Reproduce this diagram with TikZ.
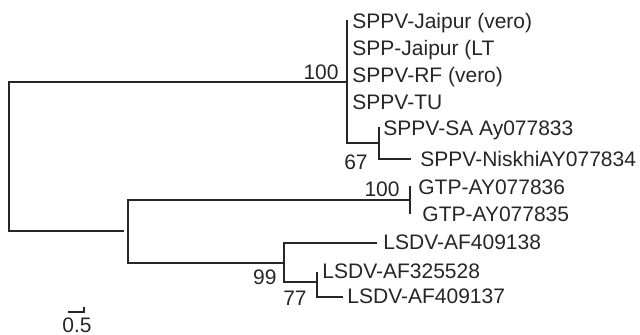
\documentclass[tikz,border=0pt]{standalone}
\usepackage{fontspec}
\setmainfont{Liberation Sans}
\definecolor{ink}{gray}{0.15}
\begin{document}
\begin{tikzpicture}[x=0.5pt,y=-0.5pt,
  branch/.style={draw=ink,line width=0.65pt,line cap=rect},
  taxon/.style={anchor=base west,inner sep=0pt,text=ink,font=\fontsize{10.5pt}{12pt}\selectfont},
  support/.style={anchor=base east,inner sep=0pt,text=ink,font=\fontsize{10.5pt}{12pt}\selectfont}]
\useasboundingbox (0,0) rectangle (640,335);

% internal nodes
\coordinate (root) at (9,156);
\coordinate (sppv) at (347,82);
\coordinate (sppvtop) at (347,21);
\coordinate (sa) at (379,143);
\coordinate (lowstub) at (123,231);
\coordinate (lower) at (128,231);
\coordinate (gtp) at (410,200);
\coordinate (lsdv) at (284,263);
\coordinate (l77) at (317,282);

% tips
\coordinate (tSA) at (379,128);
\coordinate (tNis) at (410,159);
\coordinate (tG6) at (410,187);
\coordinate (tG5) at (410,213);
\coordinate (t138) at (376,243);
\coordinate (t528) at (317,273);
\coordinate (t137) at (342,297);

% branches
\draw[branch] (root) |- (sppv);
\draw[branch] (root) |- (lowstub);
\draw[branch] (sppvtop) -- (sppv) |- (sa);
\draw[branch] (sa) |- (tSA);
\draw[branch] (sa) |- (tNis);
\draw[branch] (lower) |- (gtp);
\draw[branch] (lower) |- (lsdv);
\draw[branch] (tG6) -- (tG5);
\draw[branch] (lsdv) |- (t138);
\draw[branch] (lsdv) |- (l77);
\draw[branch] (l77) |- (t528);
\draw[branch] (l77) |- (t137);

% taxon labels
\node[taxon] (n1) at (352,28.5) {SPPV-Jaipur (vero)};
\node[taxon] (n2) at (352,55.5) {SPP-Jaipur (LT};
\node[taxon] (n3) at (352,82.5) {SPPV-RF (vero)};
\node[taxon] (n4) at (352,109.5) {SPPV-TU};
\node[taxon] (n5) at (383,135.5) {SPPV-SA Ay077833};
\node[taxon] (n6) at (420,166.5) {SPPV-NiskhiAY077834};
\node[taxon] (n7) at (418,194.5) {GTP-AY077836};
\node[taxon] (n8) at (422,221.5) {GTP-AY077835};
\node[taxon] (n9) at (383,249.5) {LSDV-AF409138};
\node[taxon] (n10) at (322,278.5) {LSDV-AF325528};
\node[taxon] (n11) at (347,303.5) {LSDV-AF409137};

% bootstrap values
\node[support] (b1) at (339,79.5) {100};
\node[support] (b2) at (368,169.5) {67};
\node[support] (b3) at (400,196.5) {100};
\node[support] (b4) at (277,284.5) {99};
\node[support] (b5) at (307,305.5) {77};

% scale bar
\coordinate (s0) at (68,312);
\coordinate (s1) at (84,312);
\coordinate (s1t) at (84,307);
\draw[branch,line cap=butt] (s0) -- (s1) -- (s1t);
\node[taxon,anchor=base] (scale) at (77,332) {0.5};
\end{tikzpicture}
\end{document}
